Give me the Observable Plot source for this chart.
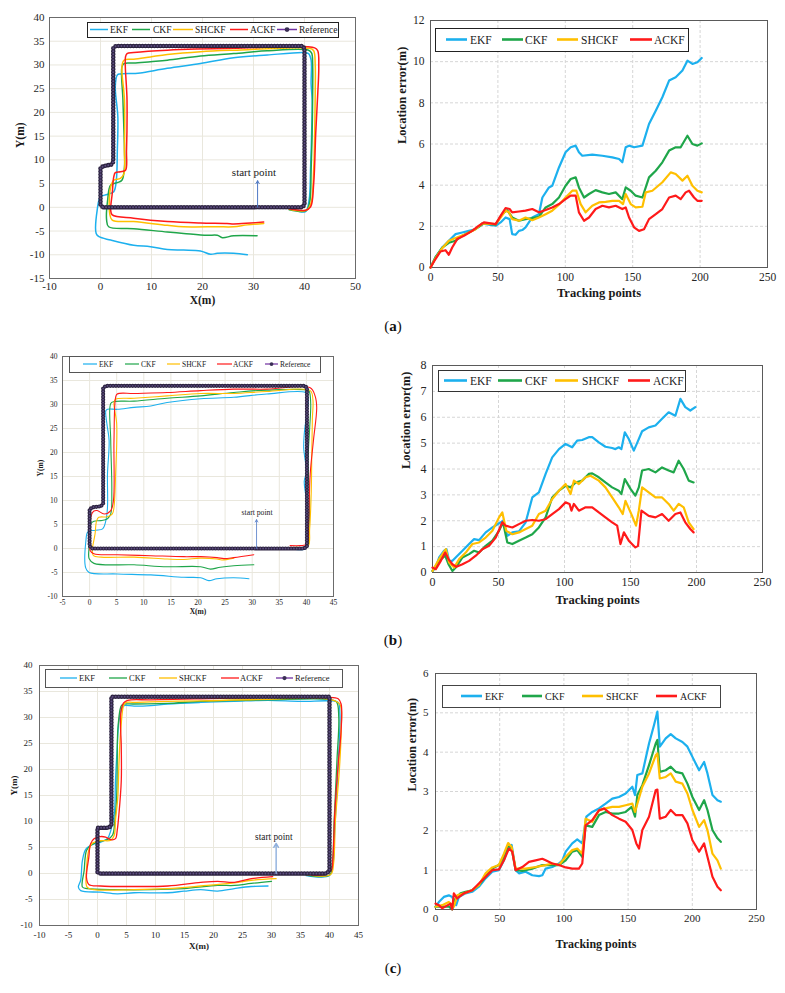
<!DOCTYPE html>
<html><head><meta charset="utf-8">
<script src="https://cdn.jsdelivr.net/npm/d3@7"></script>
<script src="https://cdn.jsdelivr.net/npm/@observablehq/plot@0.6"></script>
<style>
body{margin:0;background:#fff;}
#fig{position:relative;width:785px;height:993px;font-family:"Liberation Serif","Times New Roman",serif;overflow:hidden;}
#fig svg{position:absolute;}
#fig svg, #fig svg text{font-family:"Liberation Serif","Times New Roman",serif !important;}
</style></head><body><div id="fig"></div>
<script>
// ---------- series names & colours ----------
const names = ["EKF","CKF","SHCKF","ACKF"];
const colors = {EKF:"#1cb0ee", CKF:"#1fa64a", SHCKF:"#ffbf00", ACKF:"#ff1a1a"};

// ---------- tick values ----------
const aTrajX = [-10,0,10,20,30,40,50];
const aTrajY = [-15,-10,-5,0,5,10,15,20,25,30,35,40];
const bTrajX = [-5,0,5,10,15,20,25,30,35,40,45];
const bTrajY = [-10,-5,0,5,10,15,20,25,30,35,40];
const cTrajX = [-10,-5,0,5,10,15,20,25,30,35,40,45];
const cTrajY = [-10,-5,0,5,10,15,20,25,30,35,40];
const errX = [0,50,100,150,200,250];
const aErrY = [0,2,4,6,8,10,12];
const bErrY = [0,1,2,3,4,5,6,7,8];
const cErrY = [0,1,2,3,4,5,6];

// ---------- reference paths (x, y in m) ----------
const refA = [[0.5,0],[39.5,0],[40,0.5],[40,33.5],[39.5,34],[3,34],[2.5,33.5],[2.5,9.6],[2.1,9],[0.6,8.7],[0,8.3],[0,0.5],[0.5,0]];
const refB = [[0.5,0],[39.6,0],[40.1,0.5],[40.1,33.5],[39.6,33.9],[3,33.9],[2.5,33.4],[2.5,9.4],[2.1,8.8],[0.6,8.6],[0,8.2],[0,0.5],[0.5,0]];
const refC = [[0.5,0],[39.5,0],[40,0.6],[40,34],[2.4,34],[2.4,9.4],[2,8.8],[0,8.8],[0,0]];

// ---------- trajectories (a) ----------
const aEKF = [[38,-0.5],[40.2,-0.9],[40.9,1.5],[41.2,8.5],[41.4,15.6],[41.5,22.6],[41.3,26],[41.3,31],[40.8,32.4],[39.9,32.6],[32.7,32.1],[26.1,31.5],[19.6,30.3],[13.1,29.3],[7.8,28.3],[6.5,28.2],[3.9,28.1],[3.3,27.9],[2.9,25.4],[3.4,19.1],[3.3,12],[3.1,5.7],[2.6,3.3],[1.3,2.7],[0,2.2],[-0.65,-0.6],[-0.85,-5.5],[-0.3,-6.2],[2,-6.9],[6.5,-8],[9.8,-8.3],[13.1,-8.9],[16.3,-9],[19.6,-9.2],[21.6,-9.9],[22.9,-9.7],[26.1,-9.7],[28.8,-10]];
const aCKF = [[37,-0.5],[40.3,-0.7],[41,1],[41.3,8],[41.5,16],[41.6,24],[41.6,30],[41.4,32.5],[40.8,33.1],[32.7,33],[26.1,32.4],[19.6,31.9],[13.1,31],[9.8,30.7],[6.5,30.4],[4.6,30.3],[4.2,29.6],[4.4,22.6],[4.7,12],[4.7,8.5],[4.2,5.7],[3.3,5.2],[2,4.7],[1.4,1.5],[1.2,-2.7],[1.6,-4.1],[6.5,-4.5],[13.1,-5.2],[16.3,-5.5],[20.9,-5.9],[22.9,-5.9],[23.9,-6.4],[26.1,-6],[30.7,-6]];
const aSHCKF = [[37,-0.4],[40.4,-0.6],[41.3,1],[41.8,8],[42,16],[42.1,24],[42.1,30],[41.8,33],[41,33.5],[26.1,33.1],[19.6,32.8],[13.1,32.2],[9.8,31.7],[6.5,31.2],[4.6,31],[4.2,29.6],[4.7,22.6],[4.7,12],[4.6,7.1],[3.9,6.1],[2.6,5.7],[2,4.3],[1.8,-1.3],[2.3,-2.7],[6.5,-3],[13.1,-3.8],[16.3,-4.1],[22.9,-4.1],[26.1,-4.1],[28.8,-3.7],[32,-3.4]];
const aACKF = [[37,-0.3],[40.2,-0.6],[41.2,0.1],[41.8,5],[42.2,15.6],[42.6,24],[42.8,29.6],[42.6,33],[42,33.6],[26.1,33.5],[13.1,33.1],[6.5,32.6],[5.2,32.4],[4.9,31.7],[5.2,22.6],[5.1,12],[4.9,7.8],[3.9,7.5],[2.9,7.3],[2.6,6.4],[2.3,2.9],[2,-0.6],[2.3,-1.6],[6.5,-2.3],[13.1,-3],[19.6,-3.3],[24.8,-3.4],[26.1,-3.5],[29.4,-3.3],[32,-3.1]];

// ---------- trajectories (b) ----------
const bEKF = [[38,-0.2],[39.9,0],[40.1,2],[40,10],[39.6,14],[40,16],[39.5,21],[39.7,25],[40.1,28],[40.3,31.5],[39.8,32.5],[32.7,32.2],[26.6,31.5],[20.5,31.2],[14.3,30.4],[11.3,29.7],[8.2,29.4],[5.1,29],[3.3,29],[3,28.7],[3.2,25.9],[3.6,22.5],[3.3,15.5],[3.3,8.6],[3,5.8],[2.4,4.1],[1.1,3.8],[-0.3,3.5],[-0.7,1.4],[-0.7,-4.1],[-0.1,-5],[5.1,-5.3],[11.3,-5.5],[17.4,-6],[20.5,-6.1],[22,-6.7],[23.5,-6.3],[26.6,-6.1],[29.4,-6.3]];
const bCKF = [[38,0.2],[40.2,0.4],[40.4,3],[40.6,10],[40.3,18],[40.6,25],[40.8,30],[40.6,32.5],[40.4,32.9],[32.7,33],[26.6,32.5],[20.5,31.8],[14.3,31.3],[8.2,30.7],[4.5,30.6],[3.9,30.2],[3.9,22.5],[4.1,12.1],[3.9,7.2],[3.3,6.2],[2.1,5.8],[0.8,5.7],[0.2,5.1],[-0.1,0.3],[-0.1,-2.1],[0.8,-3.1],[8.2,-3.4],[14.3,-3.8],[20.5,-3.8],[22.3,-4.3],[24.1,-3.9],[26.6,-3.6],[30.3,-3.4]];
const bSHCKF = [[38,0.3],[40.3,0.5],[40.6,4],[40.9,12],[41,20],[41.1,27],[41.2,31],[40.7,32.9],[32.7,32.7],[26.6,32.3],[20.5,32.3],[14.3,31.8],[8.2,31.3],[4.8,31.1],[4.5,30.4],[5,25.9],[4.8,15.5],[4.5,8.6],[4.2,7.2],[3.3,6.6],[1.7,6.5],[1.3,5.8],[1,3],[0.5,-0.4],[0.7,-1.5],[2.1,-1.8],[8.2,-1.8],[14.3,-2.2],[17.4,-2.3],[20.5,-2],[23.5,-2.2],[24.4,-2.4],[26.6,-2]];
const bACKF = [[37,0.6],[38.9,0.6],[40.1,0.9],[40.4,5.1],[40.7,15.5],[41.3,22.5],[41.9,29.4],[41.6,31.8],[40.7,33.5],[32.7,33.2],[26.6,33.2],[20.5,32.9],[14.3,32.5],[8.2,32.3],[5.1,32.2],[4.8,31.5],[4.5,22.5],[4.4,10],[3.9,7.9],[2.7,7.2],[1.4,7.9],[0.8,7.8],[0.3,6.9],[0.1,1.6],[0.1,-0.4],[0.8,-1.1],[5.1,-1.3],[11.3,-1.5],[17.4,-1.7],[20.5,-1.7],[23.5,-1.9],[24.8,-2.1],[26.6,-1.9],[30.3,-1.3]];

// ---------- trajectories (c) ----------
const cEKF = [[36,-0.4],[40,-0.4],[40.6,1.9],[40.9,8.3],[41.5,21.1],[41.8,30.7],[41.5,32.9],[40,33.2],[35.1,33.1],[29.4,33.3],[23.6,33.1],[17.8,32.9],[12.1,32.6],[9.2,32.3],[6.3,32.2],[4.6,32.3],[4.3,32],[3.7,29.4],[3.4,24.3],[3.1,17.9],[2.9,11.5],[2.3,8.3],[1.7,6.7],[0.5,6],[-0.6,5.7],[-2,4.7],[-2.6,2.5],[-2.9,-1.3],[-3.3,-2.6],[-2.9,-3.3],[0.5,-3.6],[3.4,-3.9],[6.3,-3.7],[12.1,-3.7],[14.9,-3.4],[17.8,-3.1],[20.7,-3.4],[23.6,-2.9],[26.5,-2.5],[29.4,-2.4]];
const cCKF = [[36,-0.3],[40,-0.3],[40.5,2],[40.8,10],[41.3,22],[41.6,30],[41.2,33],[39.7,33.5],[29.4,33.4],[17.8,33.1],[12.1,32.7],[6.3,32.6],[4.3,32.5],[4,32],[3.5,27.5],[3.4,21.1],[3.3,14.7],[3,10.3],[2.6,7.4],[1.7,6.5],[0.5,6.2],[-1.2,5.4],[-1.9,4.4],[-2.3,0.6],[-2.6,-2.6],[-1.8,-2.9],[3.4,-3.1],[9.2,-3.1],[14.9,-2.9],[20.7,-2.3],[23.6,-2.3],[26.5,-1.9],[30,-1.5]];
const cSHCKF = [[36,-0.2],[40.2,-0.2],[40.7,2],[41,10],[41.7,20],[42,27.5],[41.8,32.5],[40,33.5],[29.4,33.5],[17.8,33.2],[12.1,33.1],[6.3,32.9],[4.9,32.9],[4.5,32.3],[4,27.5],[3.7,21.1],[3.5,14.7],[3.1,10.3],[2.9,7.4],[2.3,6.4],[0.5,6.3],[-0.9,5.8],[-1.5,4.5],[-1.9,0.6],[-1.8,-2.6],[-0.6,-3.1],[6.3,-3.1],[12.1,-2.9],[17.8,-2.4],[23.6,-1.8],[26.5,-1.3],[30.8,-1]];
const cACKF = [[36.9,-0.3],[39.2,-0.2],[40.3,0.6],[40.6,3.2],[40.9,11.5],[41.5,21.1],[42,27.5],[42,32.6],[41.5,33.6],[39.5,33.9],[35.1,34],[29.4,33.9],[17.8,33.6],[9.2,33.4],[5.2,33.3],[4.5,32.8],[4,30.7],[4.1,24.3],[4.1,17.9],[3.7,11.5],[3.4,8.3],[3.1,6.7],[2.3,6.5],[1.4,7],[0.5,7.1],[-0.6,6.7],[-1.2,5.7],[-1.5,3.1],[-1.9,-0.8],[-1.5,-2.1],[0.5,-2.4],[6.3,-2.5],[12.1,-2.4],[17.8,-1.7],[20.7,-1.5],[23.6,-1.7],[26.5,-1],[30.2,-0.6]];

// ---------- location errors (tracking point, error m) ----------
const aErrEKF = [[0,0],[3.7,0.49],[8.7,0.97],[13.6,1.3],[18.6,1.62],[23.5,1.7],[28.5,1.78],[33.4,1.86],[38.4,2.14],[43.3,2.08],[48.3,2.03],[52,2.19],[55.7,2.43],[58.7,2.35],[60.6,1.62],[63.1,1.59],[65.6,1.78],[68.1,1.82],[70.5,1.95],[75.5,2.43],[80.4,2.59],[83,3.4],[87.9,3.89],[90.3,3.97],[95.3,4.86],[100.2,5.6],[104,5.84],[107.7,5.92],[110.1,5.6],[112.6,5.43],[120,5.48],[127.5,5.43],[134.9,5.35],[139.9,5.27],[142.3,5.11],[144.8,5.84],[147.3,5.92],[151,5.84],[157.2,5.92],[162.1,6.97],[167.1,7.62],[172,8.27],[177,9.08],[181.9,9.24],[186.9,9.57],[190.6,10.05],[194.3,9.89],[198,9.97],[201.2,10.18]];
const aErrCKF = [[0,0],[3.7,0.5],[8.7,0.97],[13.6,1.2],[18.6,1.3],[23.5,1.54],[30.9,1.78],[35.9,1.98],[39.6,2.14],[48.3,2.08],[53.2,2.6],[56.9,2.79],[60.6,2.43],[65.6,2.27],[70.5,2.35],[75.5,2.4],[80.4,2.46],[85.4,2.92],[90.3,3.08],[95.3,3.4],[100.2,3.97],[104,4.3],[107.7,4.38],[110.1,3.89],[113.9,3.4],[117.6,3.57],[122.5,3.76],[127.5,3.65],[132.4,3.57],[137.4,3.65],[142.3,3.32],[144.8,3.89],[148.5,3.73],[152.2,3.49],[157.2,3.4],[162.1,4.38],[167.1,4.7],[172,5.11],[177,5.68],[181.9,5.84],[185.6,5.84],[190.6,6.4],[194.3,6],[198,5.92],[201.2,6.03]];
const aErrSHCKF = [[0,0],[3.7,0.45],[8.7,0.94],[13.6,1.3],[18.6,1.43],[26,1.62],[33.4,1.86],[38.4,2.14],[48.3,2.11],[52,2.43],[55.7,2.76],[58.2,2.68],[60.6,2.35],[65.6,2.27],[70.5,2.43],[75.5,2.3],[80.4,2.43],[85.4,2.59],[90.3,2.76],[95.3,3.05],[100.2,3.4],[105.2,3.73],[108.2,3.73],[111.4,3.08],[115.1,2.68],[120,3],[125,3.16],[129.9,3.19],[134.9,3.24],[139.9,3.24],[142.8,3.08],[144.8,3.57],[148.5,3.08],[152.2,2.92],[157.2,2.95],[159.7,3.65],[164.6,3.73],[172,4.14],[178.2,4.62],[181.9,4.54],[186.9,4.22],[190.6,4.46],[194.3,3.97],[198,3.73],[201.2,3.65]];
const aErrACKF = [[0,0],[3.7,0.41],[7.4,0.78],[11.1,0.84],[13.6,0.62],[16.1,0.97],[19.8,1.38],[24.8,1.54],[30.9,1.78],[35.9,2.03],[39.6,2.19],[48.3,2.11],[52,2.51],[55.7,2.89],[58.7,2.84],[60.6,2.68],[65.6,2.72],[70.5,2.76],[75.5,2.84],[80.4,2.68],[85.4,2.79],[90.3,2.92],[95.3,3.08],[100.2,3.32],[104,3.49],[107.7,3.49],[110.1,2.68],[113.9,2.27],[117.6,2.43],[122.5,2.84],[127.5,3],[132.4,2.92],[137.4,3],[142.3,2.84],[144.8,2.92],[147.3,2.43],[151,1.95],[154.7,1.78],[158.4,1.86],[162.1,2.35],[167.1,2.59],[172,2.84],[177,3.4],[181.9,3.49],[185.6,3.32],[189.3,3.65],[191.8,3.73],[195.5,3.4],[198,3.24],[201.2,3.24]];

const bErrEKF = [[0,0.06],[2.5,0.19],[5,0.58],[8.8,0.84],[10.6,0.9],[12.6,0.45],[15.1,0.45],[18.9,0.65],[22.7,0.84],[27.7,1.1],[31.5,1.29],[35.3,1.25],[40.3,1.55],[45.4,1.74],[51.7,1.94],[53.4,2],[56.7,1.42],[60.5,1.55],[65.5,1.59],[70.6,1.94],[75.6,2.9],[80.6,3.1],[85.7,3.81],[90.7,4.45],[95.8,4.77],[100.8,4.97],[105.8,4.84],[109.6,5.1],[113.4,5.12],[118.4,5.23],[121,5.23],[126,5.03],[131,4.86],[136.1,4.81],[138.6,4.77],[141.1,4.84],[143.1,4.77],[145.7,5.42],[148.7,5.16],[152.5,4.71],[154.9,4.99],[158.8,5.46],[163.8,5.61],[168.9,5.68],[173.9,5.94],[178.9,6.19],[184,6.06],[187.8,6.71],[191.5,6.39],[195.3,6.26],[199.1,6.39]];
const bErrCKF = [[0,0.06],[5,0.45],[9.6,0.65],[12.1,0.32],[15.1,0.06],[17.6,0.19],[22.7,0.58],[27.7,0.71],[31.5,0.84],[35.3,0.77],[40.3,1.03],[45.4,1.23],[50.4,1.61],[53.4,1.94],[56.7,1.16],[60.5,1.1],[65.5,1.23],[70.6,1.35],[75.6,1.48],[80.6,1.74],[85.7,2.13],[90.7,2.9],[95.8,3.16],[100.8,3.35],[104.6,3.29],[108.4,3.48],[113.4,3.55],[118.4,3.81],[121,3.83],[126,3.68],[131,3.48],[136.1,3.29],[141.1,3.16],[143.1,3.03],[145.7,3.61],[150,3.23],[153.7,2.97],[156.3,3.29],[158.8,3.94],[163.8,4],[168.9,3.87],[173.9,4.06],[178.9,3.94],[182.7,3.87],[186.5,4.32],[190.3,4],[194.1,3.55],[197.8,3.48]];
const bErrSHCKF = [[0,0.06],[5,0.52],[10.1,0.9],[12.6,0.39],[16.4,0.19],[20.2,0.52],[25.2,0.77],[30.2,1.1],[35.3,1.16],[40.3,1.35],[45.4,1.61],[50.4,2.13],[52.9,2.32],[55.9,1.61],[60.5,1.48],[65.5,1.55],[70.6,1.68],[75.6,1.81],[80.6,2.26],[85.7,2.39],[90.7,2.84],[95.8,3.16],[100.8,3.42],[104.6,3.03],[107.1,3.55],[110.9,3.42],[116,3.68],[119.7,3.74],[126,3.55],[131,3.29],[136.1,2.9],[141.1,2.52],[144.1,2.26],[146.2,2.77],[151.2,2.19],[154.2,1.81],[156.3,2.39],[158.8,3.29],[163.8,3.1],[168.9,2.9],[173.9,2.9],[178.9,2.65],[182.7,2.39],[186.5,2.65],[190.3,2.52],[194.1,1.94],[197.8,1.68]];
const bErrACKF = [[0,0.19],[2.5,0.13],[6.3,0.45],[9.6,0.77],[12.1,0.52],[15.1,0.32],[18.1,0.22],[22.7,0.32],[27.7,0.45],[32.8,0.65],[37.8,0.9],[42.8,1.03],[47.9,1.35],[52.9,1.94],[55.4,1.81],[60.5,1.74],[65.5,1.87],[70.6,2],[75.6,2.03],[80.6,2],[85.7,2.06],[90.7,2.26],[95.8,2.45],[100.8,2.71],[103.8,2.65],[105.3,2.39],[107.1,2.65],[110.9,2.39],[116,2.52],[121,2.52],[126,2.32],[131,2.13],[136.1,1.94],[139.9,1.81],[142.4,1.1],[145,1.55],[148.7,1.23],[153.7,0.97],[155.7,1.03],[158.3,2.39],[163.8,2.19],[168.9,2.13],[173.9,2.26],[178.9,2],[184,2.26],[187.8,2.32],[191.5,1.94],[195.3,1.68],[197.8,1.55]];

const cErrEKF = [[0,0.07],[2.6,0.19],[6.5,0.32],[10.4,0.36],[13,0.32],[16.1,0.11],[18.2,0.32],[23.4,0.41],[28.6,0.45],[33.8,0.58],[39,0.79],[44.2,0.96],[49.4,1],[53.3,1.25],[56.6,1.59],[59.3,1.64],[62.4,1],[65,0.92],[70.2,0.96],[75.4,0.87],[80.6,0.85],[83.2,0.87],[85.8,1.04],[91,1.08],[96.2,1.17],[98.8,1.25],[101.4,1.47],[106.5,1.68],[110.4,1.78],[114.3,1.68],[117.5,2.36],[122.1,2.48],[127.3,2.57],[132.5,2.69],[137.7,2.82],[142.9,2.86],[148.1,2.95],[153.3,3.12],[155.4,2.91],[157.2,3.42],[161.1,3.46],[166.3,4.22],[170.2,4.69],[172.8,5.03],[174.7,4.14],[179.3,4.35],[183.2,4.46],[187.1,4.35],[192.3,4.26],[196.2,4.14],[200.1,3.88],[205.3,3.54],[209.2,3.75],[211.8,3.46],[215.7,2.91],[219.6,2.78],[222.2,2.74]];
const cErrCKF = [[0,0.07],[3.9,0.08],[7.8,0.07],[10.4,0.08],[13,0],[15.6,0.28],[19.5,0.41],[23.4,0.45],[28.6,0.49],[33.8,0.62],[39,0.83],[44.2,1.04],[49.4,1.13],[53.3,1.34],[56.6,1.64],[59.3,1.55],[62.4,1],[67.6,0.98],[75.4,1.04],[83.2,1.13],[91,1.13],[96.2,1.13],[101.4,1.25],[106.5,1.47],[110.4,1.51],[114.3,1.34],[116.9,2.14],[122.1,2.1],[127.3,2.4],[132.5,2.48],[137.7,2.44],[142.9,2.44],[148.1,2.48],[152.8,2.61],[155.4,2.36],[157.2,2.91],[161.1,3.16],[166.3,3.67],[171.5,4.22],[172.8,4.31],[174.7,3.5],[179.3,3.54],[183.2,3.63],[187.1,3.5],[192.3,3.46],[196.2,3.2],[200.1,2.86],[205.3,2.53],[209.2,2.78],[211.8,2.53],[215.7,2.02],[219.6,1.81],[222.2,1.72]];
const cErrSHCKF = [[0,0.07],[5.2,0.11],[10.4,0.19],[14.3,0.07],[16.9,0.36],[22.1,0.41],[28.6,0.49],[33.8,0.62],[39,0.92],[44.2,1.07],[49.4,1.13],[53.3,1.42],[56.6,1.69],[59.3,1.59],[62.4,1.04],[70.2,1.04],[78,1.08],[85.8,1.13],[91,1.17],[96.2,1.13],[101.4,1.34],[106.5,1.51],[110.4,1.55],[114.3,1.42],[116.9,2.31],[122.1,2.23],[127.3,2.52],[132.5,2.57],[137.7,2.61],[142.9,2.61],[148.1,2.65],[153.3,2.69],[155.4,2.48],[157.2,2.69],[161.1,3.12],[166.3,3.46],[171.5,3.92],[172.8,3.97],[174.7,3.33],[179.3,3.37],[183.2,3.46],[187.1,3.25],[192.3,3.2],[196.2,2.95],[200.1,2.53],[205.3,2.1],[209.2,2.27],[211.8,2.02],[215.7,1.42],[219.6,1.25],[222.2,1.04]];
const cErrACKF = [[0,0.15],[2.6,0.11],[5.2,0.03],[7.8,0.08],[11.7,0.15],[13,0],[14.3,0.41],[16.9,0.28],[22.1,0.41],[28.6,0.49],[33.8,0.66],[39,0.83],[44.2,1],[49.4,1.02],[53.3,1.25],[57.2,1.55],[59.8,1.47],[62.4,1],[67.6,1.08],[72.8,1.21],[78,1.25],[83.2,1.29],[85.8,1.25],[91,1.17],[96.2,1.13],[101.4,1.07],[106.5,1.04],[111.7,1.04],[114.3,1.17],[116.9,2.14],[122.1,2.27],[127.3,2.52],[131.2,2.57],[137.7,2.4],[142.9,2.31],[148.1,2.23],[153.3,2.02],[156.4,1.68],[158.5,1.55],[161.1,2.02],[166.3,2.36],[171.5,3.03],[172.8,3.05],[174.7,2.31],[179.3,2.36],[183.2,2.53],[187.1,2.4],[192.3,2.4],[196.2,2.19],[200.1,1.76],[205.3,1.47],[209.2,1.68],[211.8,1.34],[215.7,0.83],[219.6,0.58],[222.2,0.49]];

// ---------- annotations: "start point" arrow [x1,y1,x2,y2] and label [x,y] ----------
const aArrow = [30.8,0,30.8,5.6], aStartLabel = [30.1,7.4];
const bArrow = [30.8,0,30.8,6.0], bStartLabel = [30.9,7.5];
const cArrow = [30.8,0,30.8,5.8], cStartLabel = [30.4,7.1];

// =================== drawing ===================
const fig = document.getElementById("fig");
const FONT = '"Liberation Serif", "Times New Roman", serif';
const fmt = d => String(d);

function place(svg, left, top) {
  svg.style.left = left + "px";
  svg.style.top = top + "px";
  fig.appendChild(svg);
}

function trajPanel(o) {
  const tr = [o.ekf, o.ckf, o.shckf, o.ackf];
  const gridColor = "#e9e7dd";
  const svg = Plot.plot({
    width: o.W, height: o.H,
    marginLeft: o.ml, marginRight: o.mr, marginTop: o.mt, marginBottom: o.mb,
    style: {fontFamily: FONT, color: "#262626", background: "transparent", overflow: "visible"},
    x: {domain: [o.xt[0], o.xt[o.xt.length-1]]},
    y: {domain: [o.yt[0], o.yt[o.yt.length-1]]},
    marks: [
      Plot.gridX(o.xt, {stroke: gridColor, strokeOpacity: 1}),
      Plot.gridY(o.yt, {stroke: gridColor, strokeOpacity: 1}),
      Plot.frame({stroke: "#6b6b6b", strokeWidth: 1}),
      Plot.axisX(o.xt, {tickSize: 0, tickPadding: o.px, fontSize: o.fs, tickFormat: fmt, label: null}),
      Plot.axisY(o.yt, {tickSize: 0, tickPadding: o.py, fontSize: o.fs, tickFormat: fmt, label: null}),
      ...tr.map((d, i) => Plot.line(d, {x: p => p[0], y: p => p[1], stroke: colors[names[i]], strokeWidth: o.lw, curve: "catmull-rom"})),
      Plot.line(o.ref, {x: p => p[0], y: p => p[1], stroke: "#6a3f9e", strokeWidth: 1.6}),
      Plot.line(o.ref, {x: p => p[0], y: p => p[1], stroke: "#2c2340", strokeWidth: o.bw, strokeDasharray: `0 ${o.bs}`, strokeLinecap: "round"}),
      Plot.line(o.ref, {x: p => p[0], y: p => p[1], stroke: "#5e4e82", strokeWidth: o.bw * 0.42, strokeDasharray: `0 ${o.bs}`, strokeLinecap: "round"}),
      Plot.arrow([o.arrow], {x1: d => d[0], y1: d => d[1], x2: d => d[2], y2: d => d[3], stroke: o.arrowColor, strokeWidth: o.aw, headLength: 5}),
      Plot.text([o.label], {x: d => d[0], y: d => d[1], text: () => "start point", fontSize: o.sfs, fill: "#1a1a1a"}),
      Plot.text(["X(m)"], {text: d => d, frameAnchor: "bottom", dy: o.xdy, fontSize: o.tfs, fontWeight: "bold", fill: "#1a1a1a"}),
      Plot.text(["Y(m)"], {text: d => d, frameAnchor: "left", rotate: -90, dx: o.ydx, fontSize: o.tfs, fontWeight: "bold", fill: "#1a1a1a"})
    ]
  });
  place(svg, o.left, o.top);
}

function errPanel(o) {
  const tr = [o.ekf, o.ckf, o.shckf, o.ackf];
  const gridColor = "#d6d6d6";
  const svg = Plot.plot({
    width: o.W, height: o.H,
    marginLeft: o.ml, marginRight: o.mr, marginTop: o.mt, marginBottom: o.mb,
    style: {fontFamily: FONT, color: "#262626", background: "transparent", overflow: "visible"},
    x: {domain: [0, 250]},
    y: {domain: [o.yt[0], o.yt[o.yt.length-1]]},
    marks: [
      Plot.gridX(o.xt.slice(1, -1), {stroke: gridColor, strokeOpacity: 1, strokeDasharray: "3,2"}),
      Plot.gridY(o.yt.slice(1, -1), {stroke: gridColor, strokeOpacity: 1, strokeDasharray: "3,2"}),
      Plot.frame({stroke: "#5a5a5a", strokeWidth: 1}),
      Plot.axisX(o.xt, {tickSize: 0, tickPadding: o.px, fontSize: o.fs, tickFormat: fmt, label: null}),
      Plot.axisY(o.yt, {tickSize: 0, tickPadding: o.py, fontSize: o.fs, tickFormat: fmt, label: null}),
      ...tr.map((d, i) => Plot.line(d, {x: p => p[0], y: p => p[1], stroke: colors[names[i]], strokeWidth: o.lw, strokeLinejoin: "round"})),
      Plot.text(["Tracking points"], {text: d => d, frameAnchor: "bottom", dy: o.xdy, fontSize: o.tfs, fontWeight: "bold", fill: "#1a1a1a"}),
      Plot.text(["Location error(m)"], {text: d => d, frameAnchor: "left", rotate: -90, dx: o.ydx, fontSize: o.tfs, fontWeight: "bold", fill: "#1a1a1a"})
    ]
  });
  place(svg, o.left, o.top);
}

// (a)
trajPanel({left: 0, top: 0, W: 370, H: 318, ml: 49, mr: 15, mt: 17, mb: 40,
  xt: aTrajX, yt: aTrajY, fs: 11, px: 4, py: 5, tfs: 11.5, xdy: 25, ydx: -29,
  ekf: aEKF, ckf: aCKF, shckf: aSHCKF, ackf: aACKF, ref: refA, lw: 1.5, bw: 4.6, bs: 3,
  arrow: aArrow, label: aStartLabel, arrowColor: "#4f79c4", aw: 1, sfs: 11});
errPanel({left: 385, top: 0, W: 400, H: 310, ml: 45, mr: 18, mt: 20, mb: 43,
  xt: errX, yt: aErrY, fs: 11.5, px: 5, py: 6, tfs: 12.5, xdy: 29, ydx: -29,
  ekf: aErrEKF, ckf: aErrCKF, shckf: aErrSHCKF, ackf: aErrACKF, lw: 2.2});
// (b)
trajPanel({left: 0, top: 330, W: 370, H: 290, ml: 62, mr: 37, mt: 26, mb: 24,
  xt: bTrajX, yt: bTrajY, fs: 7.5, px: 3, py: 5, tfs: 7.5, xdy: 17, ydx: -22,
  ekf: bEKF, ckf: bCKF, shckf: bSHCKF, ackf: bACKF, ref: refB, lw: 1.1, bw: 4.2, bs: 2.8,
  arrow: bArrow, label: bStartLabel, arrowColor: "#4f79c4", aw: 0.8, sfs: 7.7});
errPanel({left: 385, top: 330, W: 400, H: 290, ml: 47, mr: 23, mt: 35, mb: 48,
  xt: errX, yt: bErrY, fs: 12, px: 5, py: 6, tfs: 12.5, xdy: 31, ydx: -27,
  ekf: bErrEKF, ckf: bErrCKF, shckf: bErrSHCKF, ackf: bErrACKF, lw: 2.2});
// (c)
trajPanel({left: 0, top: 650, W: 370, H: 310, ml: 39, mr: 12, mt: 15, mb: 35,
  xt: cTrajX, yt: cTrajY, fs: 9, px: 6, py: 7, tfs: 9, xdy: 23, ydx: -25,
  ekf: cEKF, ckf: cCKF, shckf: cSHCKF, ackf: cACKF, ref: refC, lw: 1.3, bw: 4.6, bs: 3,
  arrow: cArrow, label: cStartLabel, arrowColor: "#8fb0dd", aw: 1.4, sfs: 9.3});
errPanel({left: 385, top: 650, W: 400, H: 310, ml: 50, mr: 29, mt: 23, mb: 51,
  xt: errX, yt: cErrY, fs: 11, px: 5, py: 7, tfs: 12, xdy: 38, ydx: -23,
  ekf: cErrEKF, ckf: cErrCKF, shckf: cErrSHCKF, ackf: cErrACKF, lw: 2.2});

// ---------- legends & panel labels (overlay) ----------
const ov = d3.select(fig).append("svg")
  .attr("width", 785).attr("height", 993)
  .style("left", "0px").style("top", "0px")
  .style("font-family", FONT);

const legendSpecs = [
  {box: [87,22,338,37], fs: 9.5, sw: 1.5, bc: "#222", items: [[90,108,110],[132,150,153],[173,193,195],[230,248,250],[277,297,299]]},
  {box: [435,28,688,51], fs: 11.5, sw: 2.6, bc: "#222", items: [[446,467,470],[502,523,525],[557,578,581],[630,652,654]]},
  {box: [69,356,320,372], fs: 7.5, sw: 1.2, bc: "#555", items: [[83,97,99],[125,139,141],[167,180,182],[217,232,233],[265,278,280]]},
  {box: [438,370,685,391], fs: 11.5, sw: 2.6, bc: "#333", items: [[444,467,470],[498,522,525],[555,578,582],[628,650,653]]},
  {box: [45,669,342,687], fs: 8.5, sw: 1.3, bc: "#555", items: [[60,77,79],[109,127,129],[159,177,179],[221,239,240],[276,293,295]]},
  {box: [442,685,720,707], fs: 10, sw: 2.6, bc: "#444", items: [[461,482,485],[522,542,545],[582,603,606],[656,677,680]]}
];
const legendNames = [...names, "Reference"];
for (const L of legendSpecs) {
  const [x0, y0, x1, y1] = L.box;
  const cy = (y0 + y1) / 2;
  ov.append("rect").attr("x", x0 + 0.5).attr("y", y0 + 0.5).attr("width", x1 - x0).attr("height", y1 - y0)
    .attr("fill", "#fff").attr("stroke", L.bc).attr("stroke-width", 1);
  L.items.forEach(([a, b, t], i) => {
    const n = legendNames[i];
    if (n === "Reference") {
      ov.append("line").attr("x1", a).attr("x2", b).attr("y1", cy).attr("y2", cy).attr("stroke", "#7030a0").attr("stroke-width", L.sw);
      ov.append("circle").attr("cx", (a + b) / 2).attr("cy", cy).attr("r", L.fs * 0.25).attr("fill", "#3a2f55");
    } else {
      ov.append("line").attr("x1", a).attr("x2", b).attr("y1", cy).attr("y2", cy).attr("stroke", colors[n]).attr("stroke-width", L.sw);
    }
    ov.append("text").attr("x", t).attr("y", cy).attr("dy", "0.35em").attr("font-size", L.fs).attr("fill", "#1a1a1a").text(n);
  });
}

const panelLabels = [["a", 326], ["b", 640], ["c", 968]];
for (const [l, y] of panelLabels) {
  const t = ov.append("text").attr("x", 393).attr("y", y).attr("dy", "0.35em").attr("text-anchor", "middle").attr("font-size", 15).attr("fill", "#111");
  t.append("tspan").text("(");
  t.append("tspan").attr("font-weight", "bold").text(l);
  t.append("tspan").text(")");
}
</script></body></html>
